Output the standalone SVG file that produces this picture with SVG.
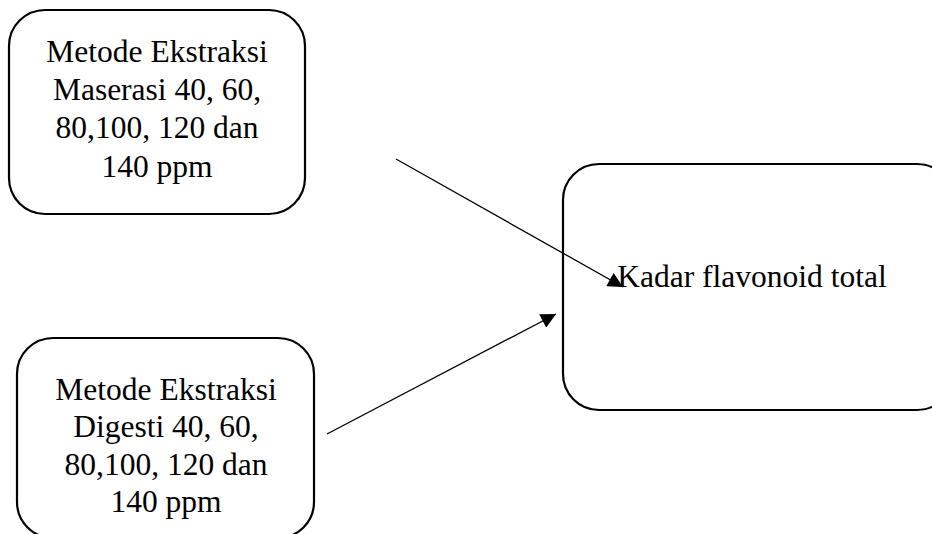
<svg xmlns="http://www.w3.org/2000/svg" width="932" height="534" viewBox="0 0 932 534">
<style>
.box{fill:#fff;stroke:#000;stroke-width:2.2}
.t{font-family:"Liberation Serif","Times New Roman",serif;font-size:31.5px;fill:#000;text-anchor:middle}
.c{stroke:#000;stroke-width:1.3;fill:none;marker-end:url(#ah)}
</style>
<defs>
<marker id="ah" viewBox="0 0 10 10" refX="10" refY="5" markerWidth="16" markerHeight="15" markerUnits="userSpaceOnUse" orient="auto">
<path d="M0,0 L10,5 L0,10 Z" fill="#000"/>
</marker>
</defs>
<g id="node-maserasi">
<rect class="box" x="9" y="10" width="296" height="204" rx="36" ry="36"/>
<text class="t" x="157" y="62">Metode Ekstraksi</text>
<text class="t" x="157" y="100">Maserasi 40, 60,</text>
<text class="t" x="157" y="138">80,100, 120 dan</text>
<text class="t" x="157" y="177">140 ppm</text>
</g>
<g id="node-digesti">
<rect class="box" x="17" y="338" width="297" height="200" rx="36" ry="36"/>
<text class="t" x="166" y="400">Metode Ekstraksi</text>
<text class="t" x="166" y="437">Digesti 40, 60,</text>
<text class="t" x="166" y="475">80,100, 120 dan</text>
<text class="t" x="166" y="512">140 ppm</text>
</g>
<g id="node-kadar">
<rect class="box" x="563" y="164" width="390" height="246" rx="36" ry="36"/>
</g>
<g id="connectors">
<line class="c" x1="396" y1="159" x2="623" y2="287"/>
<line class="c" x1="327" y1="434" x2="556" y2="314"/>
</g>
<text class="t" x="752" y="287">Kadar flavonoid total</text>
</svg>
